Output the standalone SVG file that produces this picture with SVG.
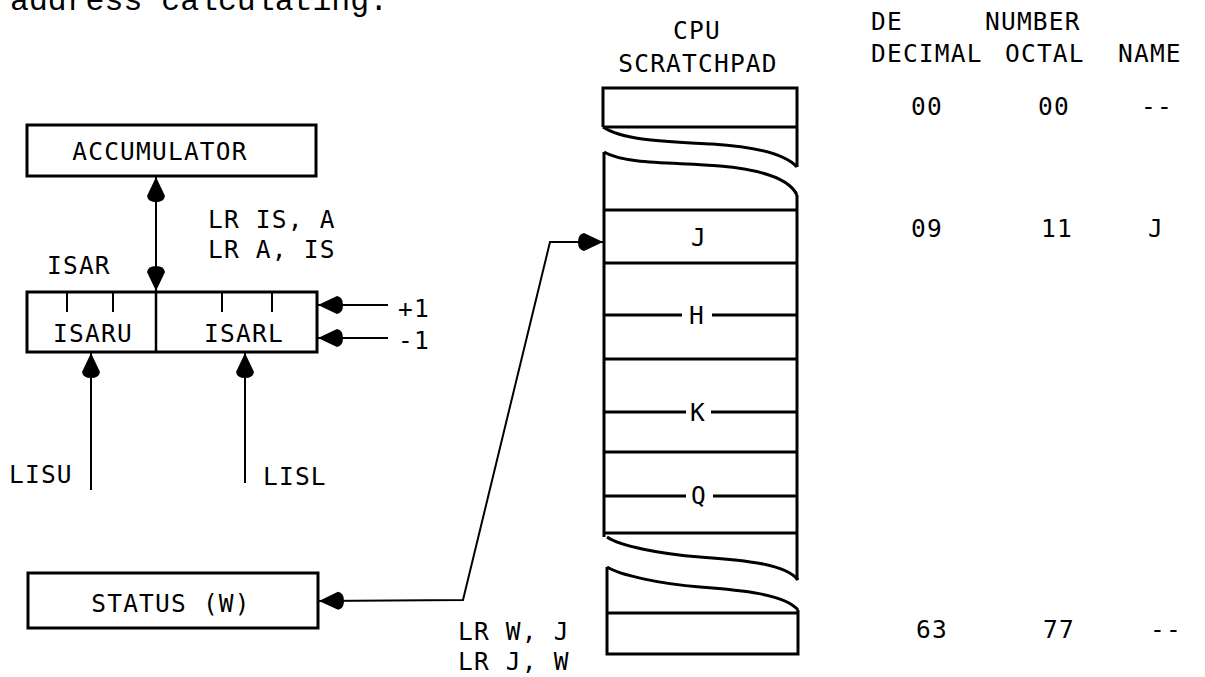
<svg xmlns="http://www.w3.org/2000/svg" width="1205" height="677" viewBox="0 0 1205 677">
<style>
.t{font-family:"DejaVu Sans Mono","Liberation Mono",monospace;font-size:24.5px;letter-spacing:1.2px;fill:#000}
.m{text-anchor:middle}
.box{fill:none;stroke:#000;stroke-width:3}
.ln{fill:none;stroke:#000;stroke-width:2.5}
.cn{fill:none;stroke:#000;stroke-width:2}
</style>
<defs>
<marker id="ah" viewBox="-27 -10 29 20" refX="0" refY="0" markerWidth="29" markerHeight="20" markerUnits="userSpaceOnUse" orient="auto-start-reverse">
<path d="M0,0 L-19,-9 Q-25,-8 -25,0 Q-25,8 -19,9 Z" fill="#000"/>
</marker>
</defs>
<rect width="1205" height="677" fill="#fff"/>
<text x="10" y="10" style="font-family:'Liberation Mono','Courier New',monospace;font-size:31.5px">address calculating.</text>

<g id="accumulator">
<rect class="box" x="27" y="125" width="289" height="51"/>
<text class="t m" x="160" y="160">ACCUMULATOR</text>
</g>

<g id="isar">
<text class="t" x="47" y="274">ISAR</text>
<rect class="box" x="27" y="292" width="290" height="60"/>
<line class="ln" x1="156" y1="292" x2="156" y2="352"/>
<path class="cn" d="M67,292V312M113,292V312M222,292V312M272,292V312"/>
<text class="t m" x="93" y="342">ISARU</text>
<text class="t m" x="244" y="342">ISARL</text>
</g>

<g id="status">
<rect class="box" x="28" y="573" width="290" height="55"/>
<text class="t m" x="171" y="612">STATUS (W)</text>
</g>

<g id="scratchpad">
<text class="t m" x="697" y="39">CPU</text>
<text class="t m" x="698" y="72">SCRATCHPAD</text>
<path class="box" d="M603,127 V88 H797 V167"/>
<line class="box" x1="603" y1="127" x2="797" y2="127"/>
<path class="box" d="M603,127 C625,142 680,142 712,144 C760,147 786,155 797,167"/>
<path class="box" d="M604,152 C626,165 680,162 720,166 C765,170 790,180 797,195"/>
<path class="box" d="M604,152 V537"/>
<path class="box" d="M797,195 V580"/>
<path class="box" d="M604,210 H797 M604,263 H797 M604,359 H797 M604,452 H797 M604,533 H797"/>
<path class="box" d="M604,315 H682 M712,315 H797 M604,412 H686 M711,412 H797 M604,496 H686 M713,496 H797"/>
<text class="t m" x="699" y="246">J</text>
<text class="t m" x="697" y="324">H</text>
<text class="t m" x="698" y="421">K</text>
<text class="t m" x="699" y="504">Q</text>
<path class="box" d="M607,537 C620,546 660,554 700,557 C740,560 785,563 798,580"/>
<path class="box" d="M607,567 C620,575 660,584 700,587 C740,590 785,594 798,610"/>
<path class="box" d="M607,567 V654 H798 V610"/>
<line class="box" x1="607" y1="613" x2="798" y2="613"/>
</g>

<g id="table">
<text class="t" x="871" y="30">DE</text>
<text class="t" x="985" y="30">NUMBER</text>
<text class="t" x="871" y="62">DECIMAL</text>
<text class="t" x="1005" y="62">OCTAL</text>
<text class="t" x="1118" y="62">NAME</text>
<text class="t" x="911" y="115">00</text>
<text class="t" x="1038" y="115">00</text>
<text class="t" x="1141" y="115">--</text>
<text class="t" x="911" y="237">09</text>
<text class="t" x="1041" y="237">11</text>
<text class="t" x="1148" y="237">J</text>
<text class="t" x="916" y="638">63</text>
<text class="t" x="1043" y="638">77</text>
<text class="t" x="1150" y="638">--</text>
</g>

<g id="connectors">
<line class="cn" x1="156" y1="177" x2="156" y2="291" marker-start="url(#ah)" marker-end="url(#ah)"/>
<line class="cn" x1="388" y1="305" x2="318" y2="305" marker-end="url(#ah)"/>
<line class="cn" x1="388" y1="338" x2="318" y2="338" marker-end="url(#ah)"/>
<line class="cn" x1="91" y1="490" x2="91" y2="353" marker-end="url(#ah)"/>
<line class="cn" x1="245" y1="483" x2="245" y2="353" marker-end="url(#ah)"/>
<polyline class="cn" points="319,601 463,600 550,242 603,242" marker-start="url(#ah)" marker-end="url(#ah)"/>
<text class="t" x="208" y="228">LR IS, A</text>
<text class="t" x="208" y="258">LR A, IS</text>
<text class="t" x="398" y="317">+1</text>
<text class="t" x="398" y="349">-1</text>
<text class="t" x="9" y="483">LISU</text>
<text class="t" x="263" y="485">LISL</text>
<text class="t" x="458" y="640">LR W, J</text>
<text class="t" x="458" y="670">LR J, W</text>
</g>
</svg>
